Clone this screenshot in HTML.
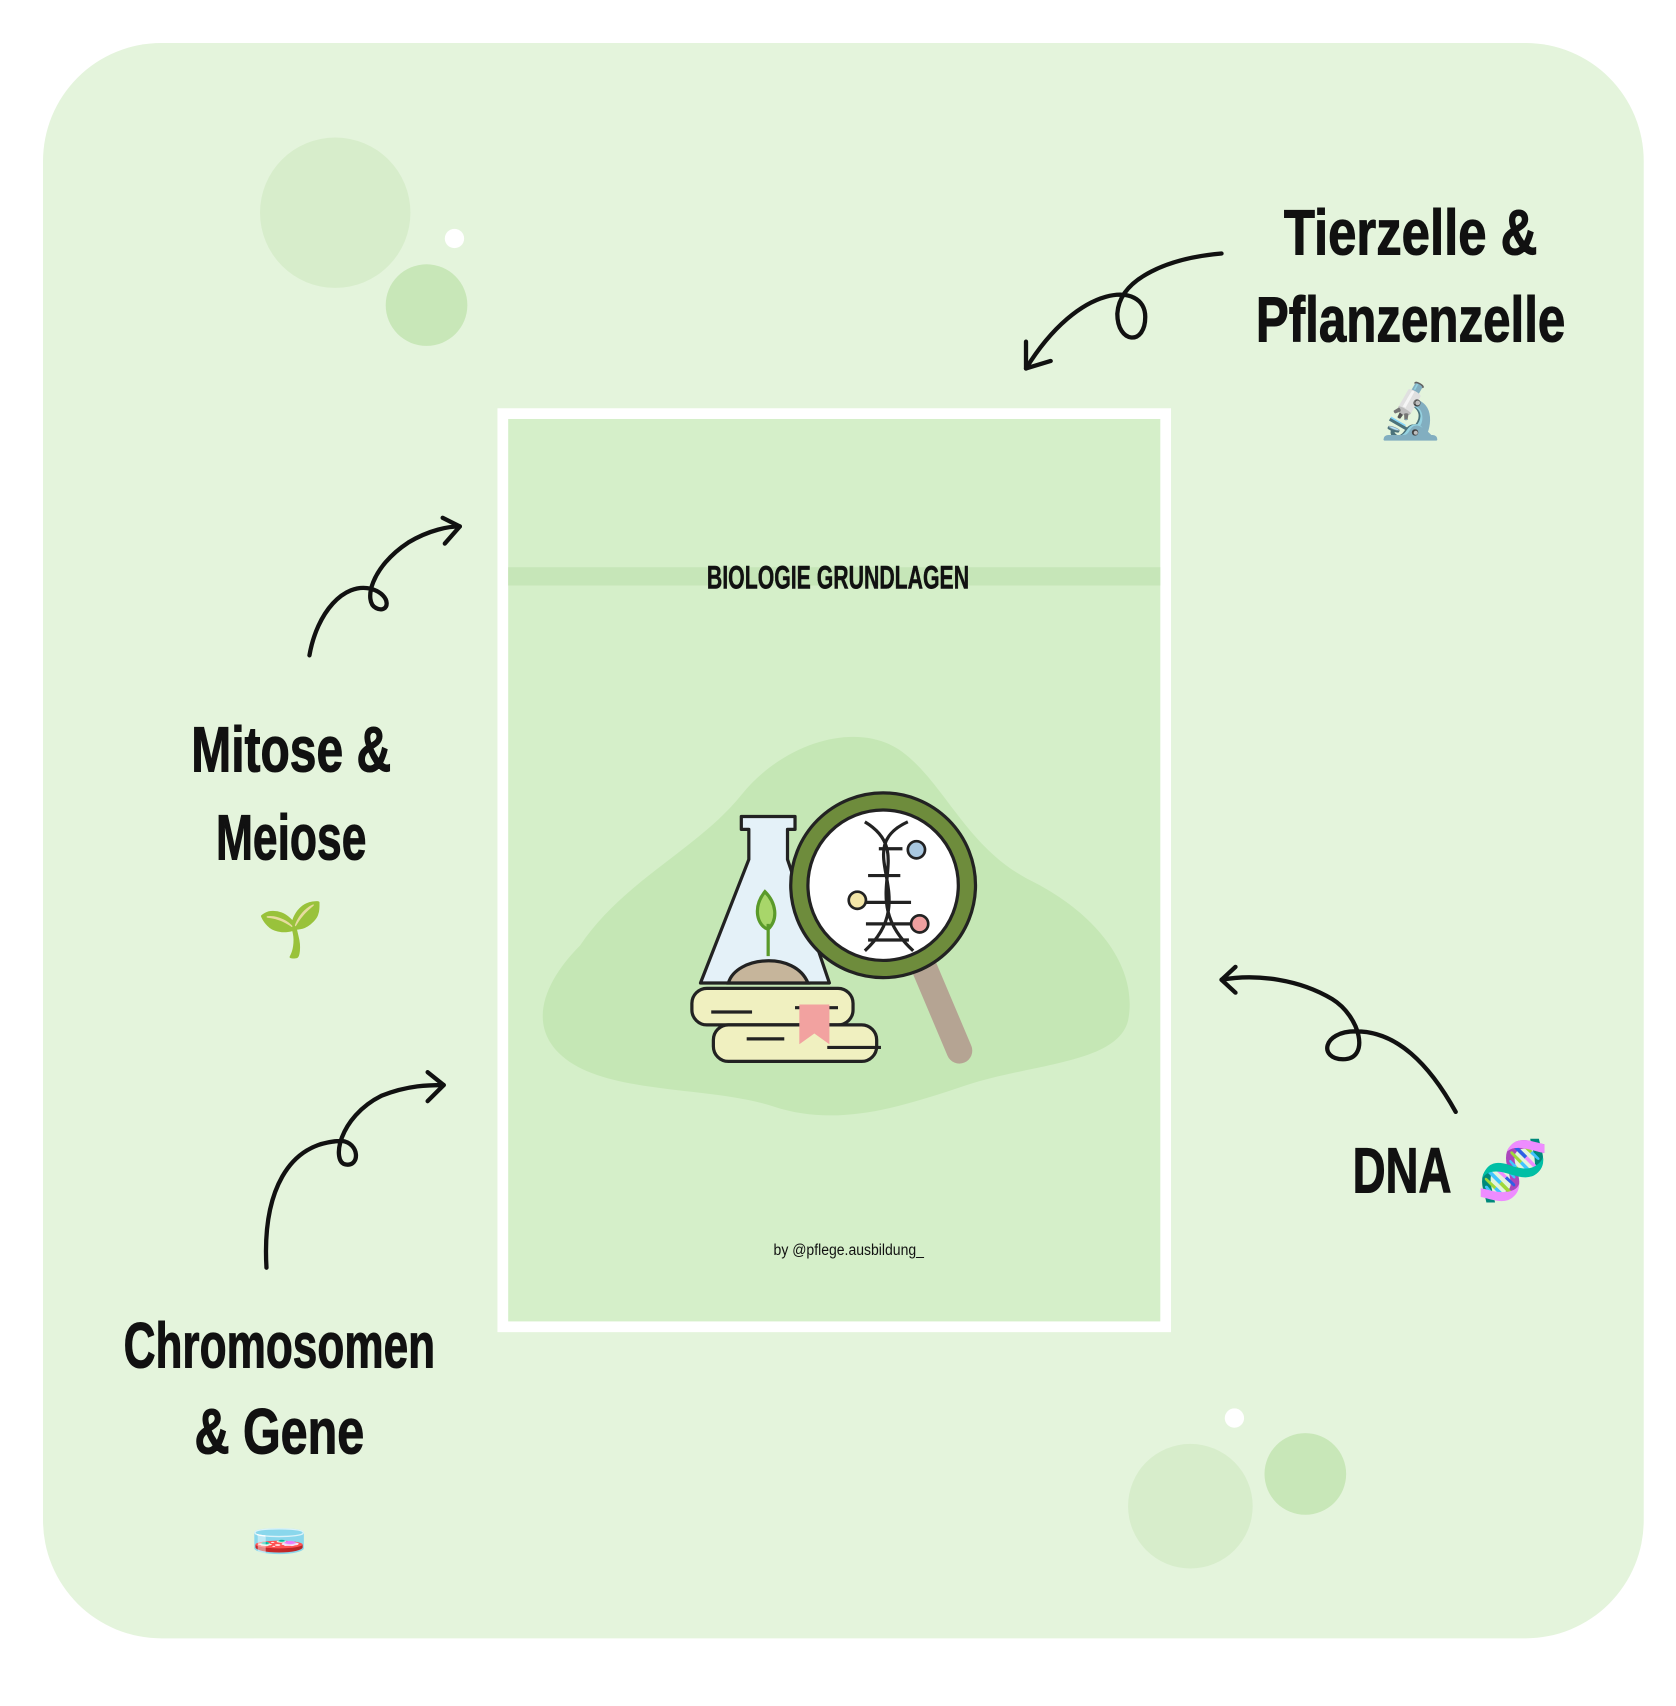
<!DOCTYPE html>
<html><head><meta charset="utf-8"><style>html,body{margin:0;padding:0;background:#fff}svg{display:block}
.h{font-family:"Liberation Sans Narrow","Liberation Sans",sans-serif;fill:#111;text-anchor:middle}
.b{font-weight:bold;stroke:#111;stroke-width:1}
.e{font-family:"DejaVu Sans","Noto Sans CJK SC",sans-serif;text-anchor:middle}</style></head>
<body>
<svg width="1676" height="1706" viewBox="0 0 1560 1588" xmlns="http://www.w3.org/2000/svg">
<rect width="1560" height="1588" fill="#fff"/>
<rect x="40" y="40" width="1490" height="1485" rx="110" fill="#e4f4dc"/>
<circle cx="312" cy="198" r="70" fill="#d7edcb"/>
<circle cx="397" cy="284" r="38" fill="#c8e7b8"/>
<circle cx="423" cy="222" r="9" fill="#fff"/>
<circle cx="1108" cy="1402" r="58" fill="#d7edcb"/>
<circle cx="1215" cy="1372" r="38" fill="#c8e7b8"/>
<circle cx="1149" cy="1320" r="9" fill="#fff"/>
<rect x="463" y="380" width="627" height="860" fill="#fff"/>
<rect x="473" y="390" width="607" height="840" fill="#d5efc9"/>
<rect x="473" y="528" width="607" height="17" fill="#c6e6b8"/>
<text x="780" y="548" class="h" font-size="30" font-weight="bold" stroke="#111" stroke-width="0.5" textLength="244" lengthAdjust="spacingAndGlyphs">BIOLOGIE GRUNDLAGEN</text>
<path d="M540,880 C580,820 650,790 690,740 C730,690 800,670 840,700 C880,730 900,790 960,820 C1020,850 1060,900 1050,950 C1040,990 960,990 900,1010 C840,1030 780,1050 720,1030 C660,1010 560,1020 520,980 C490,950 510,910 540,880Z" fill="#c5e7b5"/>
<path d="M690,760 L740,760 L740,772 L733,772 L733,800 L772,915 L652,915 L697,800 L697,772 L690,772Z" fill="#e4f1f8" stroke="#222" stroke-width="3" stroke-linejoin="round"/>
<path d="M678,915 C685,890 740,885 752,915Z" fill="#c6b59b" stroke="#222" stroke-width="3"/>
<path d="M715,890 L715,860 M712,830 C700,845 705,862 715,865 C725,855 722,840 712,830Z" fill="#a8d66a" stroke="#5a9a2a" stroke-width="3"/>
<rect x="644" y="920" width="150" height="34" rx="14" fill="#f0f0c0" stroke="#222" stroke-width="3"/>
<rect x="664" y="954" width="152" height="34" rx="14" fill="#f0f0c0" stroke="#222" stroke-width="3"/>
<path d="M662,942 H700 M740,938 H780 M695,967 H730 M770,975 H820" stroke="#222" stroke-width="3"/>
<path d="M744,935 H772 V972 L758,962 L744,972Z" fill="#f2a2a0"/>
<line x1="860" y1="900" x2="893" y2="978" stroke="#b5a493" stroke-width="24" stroke-linecap="round"/>
<circle cx="822" cy="824" r="78" fill="#fff" stroke="#6e8c3c" stroke-width="14"/>
<circle cx="822" cy="824" r="86" fill="none" stroke="#222" stroke-width="3"/>
<circle cx="822" cy="824" r="70" fill="none" stroke="#222" stroke-width="3"/>
<path d="M845,765 C790,790 860,835 805,885 M805,765 C855,795 795,835 850,885 M818,790 H840 M808,815 H838 M805,840 H848 M806,860 H848 M808,875 H846" fill="none" stroke="#222" stroke-width="3"/>
<circle cx="853" cy="791" r="8" fill="#a9c8e0" stroke="#222" stroke-width="2.5"/>
<circle cx="798" cy="838" r="8" fill="#f3e6a8" stroke="#222" stroke-width="2.5"/>
<circle cx="856" cy="860" r="8" fill="#f0a0a0" stroke="#222" stroke-width="2.5"/>
<text x="790" y="1168" class="h" font-size="15" textLength="140" lengthAdjust="spacingAndGlyphs">by  @pflege.ausbildung_</text>
<text x="1313" y="237" class="h b" font-size="60" textLength="236" lengthAdjust="spacingAndGlyphs">Tierzelle &amp;</text>
<text x="1313" y="318" class="h b" font-size="60" textLength="288" lengthAdjust="spacingAndGlyphs">Pflanzenzelle</text>
<text x="1313" y="400" class="e" font-size="50">🔬</text>
<text x="271" y="718" class="h b" font-size="60" textLength="186" lengthAdjust="spacingAndGlyphs">Mitose &amp;</text>
<text x="271" y="800" class="h b" font-size="60" textLength="140" lengthAdjust="spacingAndGlyphs">Meiose</text>
<text x="271" y="882" class="e" font-size="50">🌱</text>
<text x="260" y="1273" class="h b" font-size="60" textLength="290" lengthAdjust="spacingAndGlyphs">Chromosomen</text>
<text x="260" y="1353" class="h b" font-size="60" textLength="158" lengthAdjust="spacingAndGlyphs">&amp; Gene</text>
<text x="260" y="1438" class="e" font-size="42">🧫</text>
<text x="1305" y="1110" class="h b" font-size="60" textLength="92" lengthAdjust="spacingAndGlyphs">DNA</text>
<text x="1408" y="1108" class="e" font-size="54">🧬</text>
<g fill="none" stroke="#111" stroke-width="4" stroke-linecap="round" stroke-linejoin="round">
<path d="M1137,236 C1090,240 1042,258 1040,292 C1040,320 1066,322 1066,295 C1066,262 1005,262 955,343"/>
<path d="M955,318 L955,343 L978,336"/>
<path d="M288,610 C295,570 320,542 345,548 C366,554 362,572 350,566 C338,560 345,528 380,505 C400,493 418,490 428,490"/>
<path d="M412,482 L428,490 L414,506"/>
<path d="M248,1180 C244,1110 268,1063 318,1062 C335,1064 335,1086 322,1084 C308,1082 315,1040 355,1020 C380,1010 400,1010 413,1010"/>
<path d="M398,998 L413,1010 L398,1025"/>
<path d="M1355,1035 C1330,990 1300,960 1262,960 C1230,960 1228,986 1250,986 C1276,986 1266,946 1240,930 C1210,912 1170,906 1137,912"/>
<path d="M1150,900 L1137,912 L1150,924"/>
</g>
</svg>
</body></html>
